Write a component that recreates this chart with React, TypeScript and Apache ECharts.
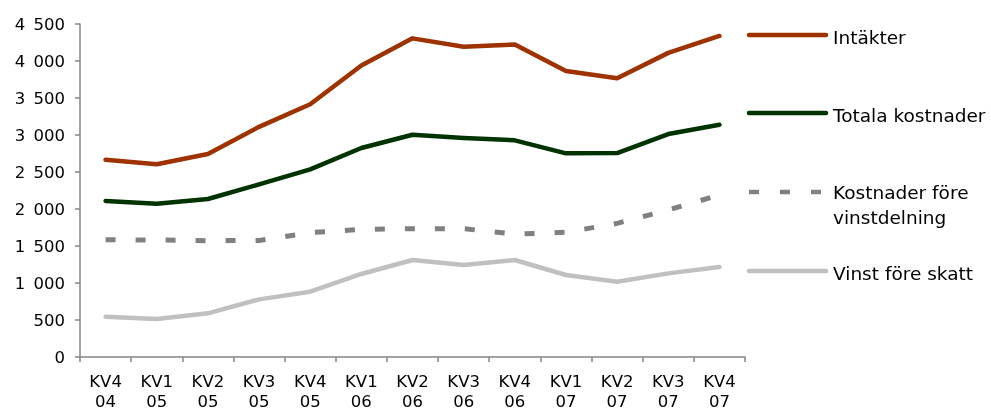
import React, { useEffect, useRef } from "react";
import * as echarts from "echarts";

const categories = ["KV4\n04", "KV1\n05", "KV2\n05", "KV3\n05", "KV4\n05", "KV1\n06", "KV2\n06", "KV3\n06", "KV4\n06", "KV1\n07", "KV2\n07", "KV3\n07", "KV4\n07"];
const intakter = [2665, 2605, 2743, 3110, 3415, 3940, 4306, 4193, 4222, 3865, 3768, 4110, 4338];
const totalaKostnader = [2108, 2070, 2135, 2333, 2536, 2824, 3004, 2959, 2928, 2752, 2756, 3013, 3139];
const kostnaderForeVinst = [1585, 1581, 1572, 1575, 1680, 1725, 1734, 1734, 1660, 1685, 1806, 1986, 2189];
const vinstForeSkatt = [545, 513, 590, 779, 883, 1122, 1311, 1243, 1311, 1108, 1018, 1130, 1216];
const seriesNames = ["Intäkter", "Totala kostnader", "Kostnader före\nvinstdelning", "Vinst före skatt"];
const yTicks = { min: 0, max: 4500, interval: 500 };

const FONT = "'DejaVu Sans', Verdana, sans-serif";
const colors = ["#9E3200", "#003300", "#808080", "#C0C0C0"];

export default function App() {
  const ref = useRef<HTMLDivElement>(null);
  useEffect(() => {
    if (!ref.current) return;
    const chart = echarts.init(ref.current, undefined, { renderer: "svg" });
    const data = [intakter, totalaKostnader, kostnaderForeVinst, vinstForeSkatt];
    const legendY = [35, 113, 192, 271];
    const graphic: any[] = [];
    seriesNames.forEach((n, i) => {
      graphic.push({
        type: "line",
        shape: { x1: 749, y1: legendY[i], x2: 826, y2: legendY[i] },
        style: {
          stroke: colors[i],
          lineWidth: 4.5,
          lineCap: i === 2 ? "butt" : "round",
          lineDash: i === 2 ? [10, 21] : null,
        },
      });
      const twoLine = n.indexOf("\n") >= 0;
      graphic.push({
        type: "text",
        x: 833,
        y: twoLine ? legendY[i] - 12 : legendY[i] + 2,
        style: {
          text: n,
          fill: "#000",
          font: `18.5px ${FONT}`,
          lineHeight: 25,
          verticalAlign: twoLine ? "top" : "middle",
        },
      });
    });
    chart.setOption({
      animation: false,
      grid: { left: 80, right: 246, top: 24, bottom: 55, containLabel: false },
      xAxis: {
        type: "category",
        data: categories,
        boundaryGap: true,
        axisLine: { lineStyle: { color: "#868686", width: 1.5 } },
        axisTick: { show: true, length: 5, lineStyle: { color: "#868686", width: 1.5 } },
        axisLabel: { color: "#000", fontFamily: FONT, fontSize: 16.5, lineHeight: 20, margin: 14, interval: 0 },
      },
      yAxis: {
        type: "value",
        min: yTicks.min,
        max: yTicks.max,
        interval: yTicks.interval,
        axisLine: { show: true, lineStyle: { color: "#868686", width: 1.5 } },
        axisTick: { show: true, length: 5, lineStyle: { color: "#868686", width: 1.5 } },
        splitLine: { show: false },
        axisLabel: {
          color: "#000",
          fontFamily: FONT,
          fontSize: 16.5,
          margin: 15,
          formatter: (v: number) => String(v).replace(/\B(?=(\d{3})+(?!\d))/g, "\u2002"),
        },
      },
      series: data.map((d, i) => ({
        name: seriesNames[i],
        type: "line",
        data: d,
        symbol: "none",
        lineStyle: {
          color: colors[i],
          width: i === 2 ? 5 : 4.5,
          type: i === 2 ? [10, 20] : "solid",
          cap: i === 2 ? "butt" : "round",
          join: "round",
        },
        z: 4 - i,
      })),
      graphic,
    });
    return () => chart.dispose();
  }, []);
  return <div ref={ref} style={{ position: "fixed", left: 0, top: 0, width: 991, height: 412 }} />;
}
